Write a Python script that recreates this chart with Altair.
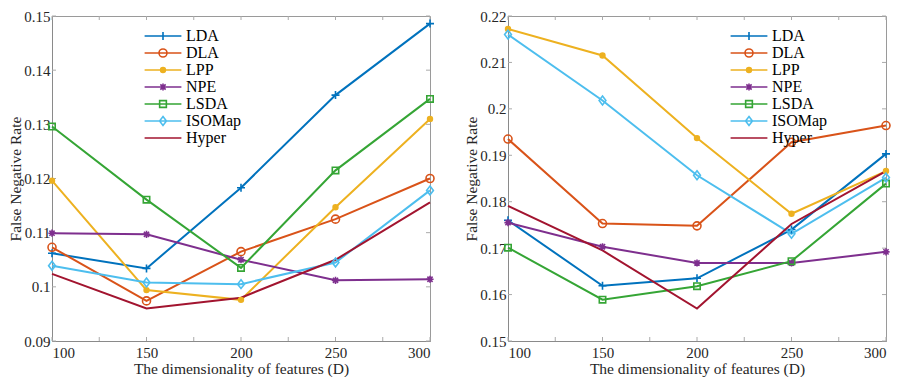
import altair as alt
import pandas as pd

dims = [100, 150, 200, 250, 300]
methods = ["LDA", "DLA", "LPP", "NPE", "LSDA", "ISOMap", "Hyper"]
colors = ["#0072BD", "#D95319", "#EDB120", "#7E2F8E", "#35A535", "#4DBEEE", "#A2142F"]

left_vals = {
    "LDA":    [0.1062, 0.1034, 0.1183, 0.1354, 0.1486],
    "DLA":    [0.1073, 0.0974, 0.1065, 0.1125, 0.1200],
    "LPP":    [0.1196, 0.0994, 0.0976, 0.1147, 0.1310],
    "NPE":    [0.1099, 0.1097, 0.1050, 0.1012, 0.1014],
    "LSDA":   [0.1296, 0.1161, 0.1035, 0.1215, 0.1347],
    "ISOMap": [0.1039, 0.1008, 0.1005, 0.1045, 0.1178],
    "Hyper":  [0.1024, 0.0960, 0.0980, 0.1050, 0.1156],
}
right_vals = {
    "LDA":    [0.1760, 0.1619, 0.1635, 0.1740, 0.1903],
    "DLA":    [0.1935, 0.1753, 0.1748, 0.1928, 0.1964],
    "LPP":    [0.2172, 0.2115, 0.1937, 0.1774, 0.1866],
    "NPE":    [0.1755, 0.1703, 0.1668, 0.1668, 0.1692],
    "LSDA":   [0.1701, 0.1589, 0.1618, 0.1672, 0.1839],
    "ISOMap": [0.2160, 0.2018, 0.1857, 0.1731, 0.1852],
    "Hyper":  [0.1791, 0.1695, 0.1570, 0.1752, 0.1866],
}
left_yticks = [0.09, 0.10, 0.11, 0.12, 0.13, 0.14, 0.15]
right_yticks = [0.15, 0.16, 0.17, 0.18, 0.19, 0.20, 0.21, 0.22]
xticks = [100, 125, 150, 175, 200, 225, 250, 275, 300]

# marker shapes (plot) and legend symbols (line + marker)
plot_shapes = [
    "M-1,0L1,0M0,-1L0,1",
    "circle",
    "M-0.6,0A0.6,0.6 0 1,0 0.6,0A0.6,0.6 0 1,0 -0.6,0M-0.25,0A0.25,0.25 0 1,0 0.25,0A0.25,0.25 0 1,0 -0.25,0",
    "M-0.9,0L0.9,0M0,-0.9L0,0.9M-0.65,-0.65L0.65,0.65M-0.65,0.65L0.65,-0.65",
    "M-0.8,-0.8L0.8,-0.8L0.8,0.8L-0.8,0.8Z",
    "M0,-1.1L0.85,0L0,1.1L-0.85,0Z",
    "M0,0L0,0",
]
L = 2.3
legend_shapes = [
    f"M-{L},0L{L},0M0,-0.5L0,0.5",
    f"M-{L},0L{L},0M-0.5,0A0.5,0.5 0 1,0 0.5,0A0.5,0.5 0 1,0 -0.5,0",
    f"M-{L},0L{L},0M-0.3,0A0.3,0.3 0 1,0 0.3,0A0.3,0.3 0 1,0 -0.3,0M-0.13,0A0.13,0.13 0 1,0 0.13,0A0.13,0.13 0 1,0 -0.13,0",
    f"M-{L},0L{L},0M0,-0.45L0,0.45M-0.33,-0.33L0.33,0.33M-0.33,0.33L0.33,-0.33",
    f"M-{L},0L{L},0M-0.42,-0.42L0.42,-0.42L0.42,0.42L-0.42,0.42Z",
    f"M-{L},0L{L},0M0,-0.56L0.43,0L0,0.56L-0.43,0Z",
    f"M-{L},0L{L},0",
]

FONT = "Liberation Serif"
W, H = 378, 325


def make_df(vals):
    rows = []
    for m in methods:
        for d, v in zip(dims, vals[m]):
            rows.append({"D": d, "rate": v, "method": m})
    return pd.DataFrame(rows)


def panel(vals, yticks, legend_x):
    df = make_df(vals)
    ydom = [yticks[0], yticks[-1]]
    xs = alt.Scale(domain=[100, 300], nice=False, zero=False)
    ys = alt.Scale(domain=ydom, nice=False, zero=False)
    xenc = alt.X("D:Q", scale=xs, axis=alt.Axis(
        title="The dimensionality of features (D)", values=xticks,
        labelExpr="datum.value % 50 == 0 ? datum.label : ''",
        ticks=False, grid=False, labelPadding=4, titlePadding=1))
    yenc = alt.Y("rate:Q", scale=ys, axis=alt.Axis(
        title="False Negative Rate", values=yticks, format="~g",
        ticks=False, grid=False, labelPadding=2, titlePadding=0))
    cscale = alt.Scale(domain=methods, range=colors)

    base = alt.Chart(df)
    lines = base.mark_line(strokeWidth=2).encode(
        x=xenc, y=yenc,
        color=alt.Color("method:N", scale=cscale, legend=None),
        detail="method:N",
    )
    pts = base.mark_point(filled=False, strokeWidth=1.6, size=64, opacity=1).encode(
        x=alt.X("D:Q", scale=xs), y=alt.Y("rate:Q", scale=ys),
        color=alt.Color("method:N", scale=cscale, legend=None),
        shape=alt.Shape("method:N", scale=alt.Scale(domain=methods, range=plot_shapes), legend=None),
    )
    leg_legend = alt.Legend(
        title=None, orient="none", legendX=legend_x, legendY=11,
        symbolSize=256, symbolStrokeWidth=1.6, symbolOpacity=1,
        labelFont=FONT, labelFontSize=16, labelColor="#000",
        rowPadding=0, labelOffset=14, symbolFillColor="transparent",
    )
    leg = base.transform_filter("datum.D < 0").mark_point(filled=False, strokeWidth=1.6).encode(
        x=alt.X("D:Q", scale=xs), y=alt.Y("rate:Q", scale=ys),
        color=alt.Color("method:N", scale=cscale, legend=leg_legend),
        shape=alt.Shape("method:N", scale=alt.Scale(domain=methods, range=legend_shapes), legend=leg_legend),
    )
    xt = pd.DataFrame({"D": xticks})
    yt = pd.DataFrame({"rate": yticks})
    tick_style = dict(color="#aaaaaa", strokeWidth=1)
    xb = alt.Chart(xt).mark_rule(**tick_style).encode(x=alt.X("D:Q", scale=xs), y=alt.value(H), y2=alt.value(H - 4))
    xtop = alt.Chart(xt).mark_rule(**tick_style).encode(x=alt.X("D:Q", scale=xs), y=alt.value(0), y2=alt.value(4))
    yl = alt.Chart(yt).mark_rule(**tick_style).encode(y=alt.Y("rate:Q", scale=ys), x=alt.value(0), x2=alt.value(4))
    yr = alt.Chart(yt).mark_rule(**tick_style).encode(y=alt.Y("rate:Q", scale=ys), x=alt.value(W), x2=alt.value(W - 4))
    return alt.layer(xb, xtop, yl, yr, lines, pts, leg).resolve_scale(
        shape="independent", color="independent"
    ).properties(width=W, height=H)


left = panel(left_vals, left_yticks, 102)
right = panel(right_vals, right_yticks, 232)

chart = alt.hconcat(left, right, spacing=26).properties(padding=0).configure_view(
    stroke="#9a9a9a", strokeWidth=1
).configure_axis(
    labelFont=FONT, titleFont=FONT, labelFontSize=15, titleFontSize=15.5,
    labelColor="#262626", titleColor="#262626", titleFontWeight="normal",
    domainColor="#8a8a8a",
)

chart.save("out.html", embed_options={"renderer": "svg", "actions": False})
